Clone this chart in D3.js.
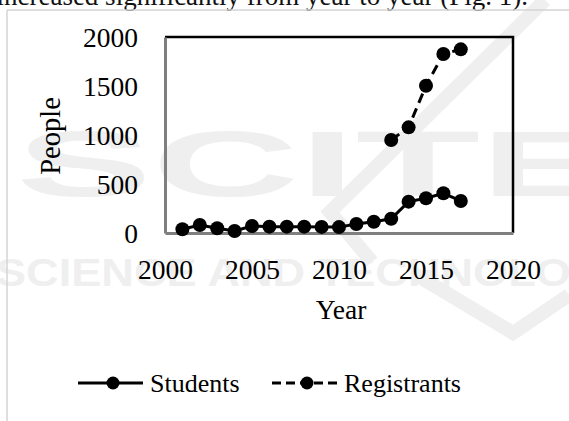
<!DOCTYPE html>
<html>
<head>
<meta charset="utf-8">
<script src="https://cdn.jsdelivr.net/npm/d3@7"></script>
<style>
  body { margin: 0; background: #fff; }
  svg text { font-family: "Liberation Serif", "Times New Roman", serif; }
</style>
</head>
<body>
<svg id="chart" width="569" height="421"></svg>
<script>
// data
var studentYears = [2001, 2002, 2003, 2004, 2005, 2006, 2007, 2008, 2009, 2010, 2011, 2012, 2013, 2014, 2015, 2016, 2017];
var students = [38, 82, 48, 20, 71, 65, 65, 65, 62, 60, 92, 115, 145, 320, 354, 405, 327];
var registrantYears = [2013, 2014, 2015, 2016, 2017];
var registrants = [949, 1078, 1503, 1827, 1874];
var xTicks = [2000, 2005, 2010, 2015, 2020];
var yTicks = [0, 500, 1000, 1500, 2000];

var serif = "'Liberation Serif', 'Times New Roman', serif";
var svg = d3.select("#chart"),
  margin = { top: 37, left: 165, right: 56, bottom: 188 },
  width = 569 - margin.left - margin.right,
  height = 421 - margin.top - margin.bottom;

// faint publisher watermark behind everything
var wmColor = "#efefef";
svg.append("text").attr("x", 16).attr("y", 196)
  .attr("fill", wmColor)
  .style("font-family", "'Liberation Sans', Arial, sans-serif").style("font-weight", "bold")
  .style("font-size", "92px")
  .attr("textLength", 600).attr("lengthAdjust", "spacingAndGlyphs")
  .text("SCITE");
svg.append("text").attr("x", -4).attr("y", 286)
  .attr("fill", wmColor)
  .style("font-family", "'Liberation Sans', Arial, sans-serif").style("font-weight", "bold")
  .style("font-size", "38px")
  .attr("textLength", 640).attr("lengthAdjust", "spacingAndGlyphs")
  .text("SCIENCE AND TECHNOLOGY");
svg.append("path")
  .attr("d", "M545,0L330,212L372,262")
  .attr("fill", "none").attr("stroke", wmColor).attr("stroke-width", 14);
svg.append("path")
  .attr("d", "M413,273L513,333L569,295")
  .attr("fill", "none").attr("stroke", wmColor).attr("stroke-width", 14);

// page text cut at the top
svg.append("text").attr("x", 528).attr("y", 5).attr("text-anchor", "end")
  .style("font-family", serif).style("font-size", "27px").attr("fill", "#111")
  .text("increased significantly from year to year (Fig. 1).");

// outer frame
svg.append("line").attr("x1", 7).attr("x2", 569).attr("y1", 10).attr("y2", 10)
  .attr("stroke", "#d4d4d4").attr("stroke-width", 1.5);
svg.append("line").attr("x1", 7).attr("x2", 7).attr("y1", 10).attr("y2", 421)
  .attr("stroke", "#d4d4d4").attr("stroke-width", 1.5);

var g = svg.append("g")
  .attr("transform", "translate(" + margin.left + "," + margin.top + ")");

var x = d3.scaleLinear().domain([2000, 2020]).range([0, width]);
var y = d3.scaleLinear().domain([0, 2000]).range([height, 0]);

// top and right border
g.append("path")
  .attr("d", "M0,0H" + width + "V" + height)
  .attr("fill", "none").attr("stroke", "#000").attr("stroke-width", 2.5);

// axes
var xAxis = g.append("g").attr("transform", "translate(0," + height + ")")
  .call(d3.axisBottom(x).tickValues(xTicks).tickFormat(d3.format("d")).tickSize(0).tickPadding(26));
var yAxis = g.append("g")
  .call(d3.axisLeft(y).tickValues(yTicks).tickFormat(d3.format("d")).tickSize(0).tickPadding(27));
[xAxis, yAxis].forEach(function(a) {
  a.attr("font-family", serif).attr("font-size", 27.5);
  a.select(".domain").attr("stroke", "#7f7f7f").attr("stroke-width", 3);
  a.selectAll(".tick text").style("font-family", serif).style("font-size", "27.5px").attr("fill", "#000");
});
yAxis.selectAll(".tick text").attr("dy", "0.34em");

// axis titles
svg.append("text").attr("x", 341).attr("y", 319).attr("text-anchor", "middle")
  .style("font-family", serif).style("font-size", "27.5px").text("Year");
svg.append("text").attr("transform", "translate(60,136) rotate(-90)").attr("text-anchor", "middle")
  .style("font-family", serif).style("font-size", "28.5px").text("People");

var line = d3.line().x(function(d) { return x(d[0]); }).y(function(d) { return y(d[1]); });
var sData = studentYears.map(function(d, i) { return [d, students[i]]; });
var rData = registrantYears.map(function(d, i) { return [d, registrants[i]]; });

g.append("path").datum(sData).attr("d", line)
  .attr("fill", "none").attr("stroke", "#000").attr("stroke-width", 3);
g.append("path").datum(rData).attr("d", line)
  .attr("fill", "none").attr("stroke", "#000").attr("stroke-width", 3)
  .attr("stroke-dasharray", "10,6");

g.selectAll(".sDot").data(sData).enter().append("circle")
  .attr("class", "sDot")
  .attr("cx", function(d) { return x(d[0]); })
  .attr("cy", function(d) { return y(d[1]); })
  .attr("r", 7).attr("fill", "#000");
g.selectAll(".rDot").data(rData).enter().append("circle")
  .attr("class", "rDot")
  .attr("cx", function(d) { return x(d[0]); })
  .attr("cy", function(d) { return y(d[1]); })
  .attr("r", 7).attr("fill", "#000");

// legend
var legend = [
  { name: "Students", dash: null, x: 78 },
  { name: "Registrants", dash: "9,5", x: 272 }
];
var lg = svg.selectAll(".legend").data(legend).enter().append("g")
  .attr("class", "legend")
  .attr("transform", function(d) { return "translate(" + d.x + ",383)"; });
lg.append("line").attr("x1", 0).attr("x2", 65).attr("y1", 0).attr("y2", 0)
  .attr("stroke", "#000").attr("stroke-width", 3)
  .attr("stroke-dasharray", function(d) { return d.dash; });
lg.append("circle").attr("cx", 35).attr("cy", 0).attr("r", 6.5).attr("fill", "#000");
lg.append("text").attr("x", 72).attr("y", 0).attr("dy", "0.33em")
  .style("font-family", serif).style("font-size", "26px").text(function(d) { return d.name; });
</script>
</body>
</html>
